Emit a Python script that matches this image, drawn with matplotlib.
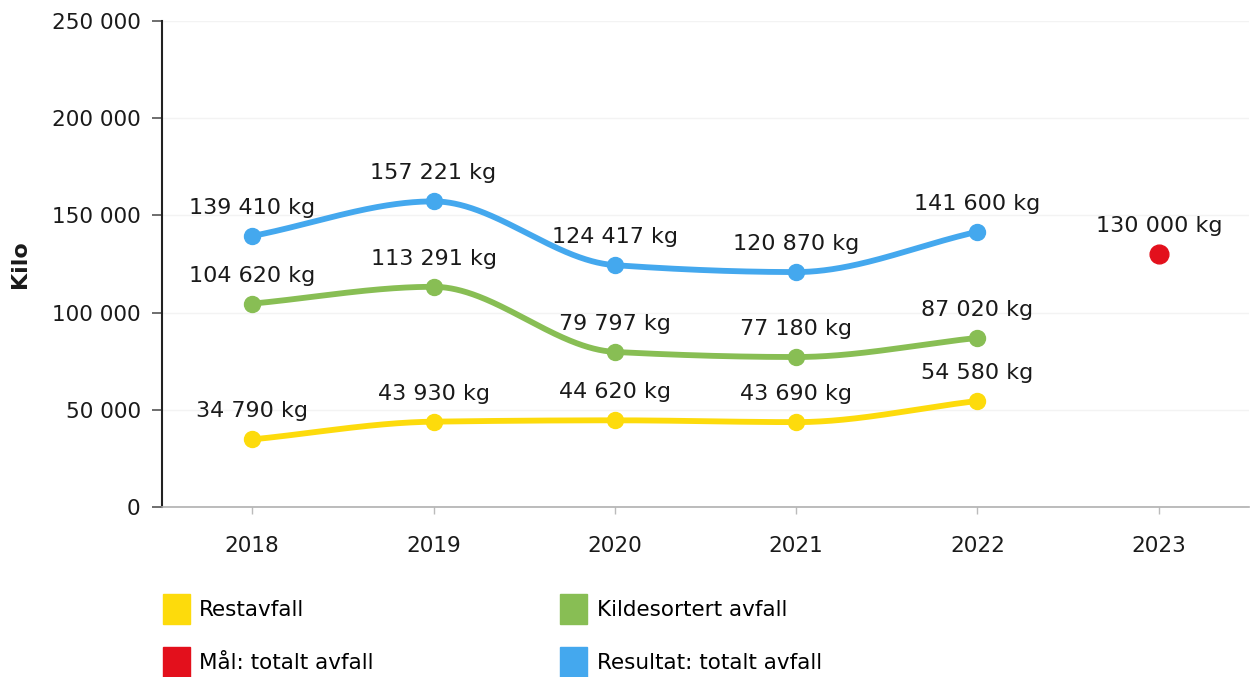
import numpy as np
import matplotlib.pyplot as plt
from matplotlib.patches import Patch
from matplotlib.ticker import FuncFormatter

plt.rcParams['font.family'] = ['DejaVu Sans']

years = ['2018', '2019', '2020', '2021', '2022', '2023']
restavfall = [34790, 43930, 44620, 43690, 54580]
kildesortert = [104620, 113291, 79797, 77180, 87020]
resultat = [139410, 157221, 124417, 120870, 141600]
maal = [130000]
maal_year_idx = 5

c_yellow = '#FDDB0C'
c_green = '#88BE54'
c_blue = '#44A8EE'
c_red = '#E3101C'
txt = '#1a1a1a'


def pchip(x, y, n=300):
    # monotone kubisk interpolasjon (Fritsch-Carlson)
    x = np.asarray(x, float)
    y = np.asarray(y, float)
    h = np.diff(x)
    d = np.diff(y) / h
    m = np.zeros_like(y)
    for i in range(1, len(y) - 1):
        if d[i - 1] * d[i] > 0:
            m[i] = 2 / (1 / d[i - 1] + 1 / d[i])
    m[0] = d[0]
    m[-1] = d[-1]
    xs, ys = [], []
    for i in range(len(h)):
        t = np.linspace(0, 1, n)
        h00 = 2 * t**3 - 3 * t**2 + 1
        h10 = t**3 - 2 * t**2 + t
        h01 = -2 * t**3 + 3 * t**2
        h11 = t**3 - t**2
        xs.append(x[i] + t * h[i])
        ys.append(h00 * y[i] + h10 * h[i] * m[i] + h01 * y[i + 1] + h11 * h[i] * m[i + 1])
    return np.concatenate(xs), np.concatenate(ys)


def fmt(v):
    return '{:,}'.format(int(v)).replace(',', ' ')


fig = plt.figure(figsize=(12.52, 6.77), dpi=100)
ax = fig.add_axes([0.129, 0.251, 0.869, 0.718])

x = np.arange(5)
for serie, col in [(resultat, c_blue), (kildesortert, c_green), (restavfall, c_yellow)]:
    xs, ys = pchip(x, serie)
    ax.plot(xs, ys, color=col, lw=4.2, solid_capstyle='round', zorder=3)
    ax.plot(x, serie, 'o', color=col, ms=11.5, zorder=4)
    for xi, v in zip(x, serie):
        ax.annotate(fmt(v) + ' kg', (xi, v), xytext=(0, 13), textcoords='offset points',
                    ha='center', va='bottom', fontsize=16, color=txt, zorder=5)

ax.plot([maal_year_idx], maal, 'o', color=c_red, ms=13.5, zorder=4)
ax.annotate(fmt(maal[0]) + ' kg', (maal_year_idx, maal[0]), xytext=(0, 13),
            textcoords='offset points', ha='center', va='bottom', fontsize=16, color=txt)

ax.set_xlim(-0.5, 5.5)
ax.set_ylim(0, 250000)
ax.set_yticks(np.arange(0, 250001, 50000))
ax.yaxis.set_major_formatter(FuncFormatter(lambda v, p: fmt(v)))
ax.set_xticks(np.arange(6))
ax.set_xticklabels(years)
ax.grid(axis='y', color='#f3f3f3', lw=1)
ax.set_axisbelow(True)

for s in ['top', 'right']:
    ax.spines[s].set_visible(False)
ax.spines['left'].set_color('#222222')
ax.spines['left'].set_linewidth(1.5)
ax.spines['bottom'].set_color('#b0b0b0')
ax.spines['bottom'].set_linewidth(1.2)
ax.tick_params(axis='y', length=7, width=1.2, color='#555555', pad=8, labelsize=15.5, labelcolor=txt)
ax.tick_params(axis='x', length=5, width=1, color='#bbbbbb', pad=16, labelsize=15.5, labelcolor=txt)
ax.set_ylabel('Kilo', fontsize=16, fontweight='bold', labelpad=16, color=txt)

handles = [Patch(color=c_yellow), Patch(color=c_red), Patch(color=c_green), Patch(color=c_blue)]
labels = ['Restavfall', 'Mål: totalt avfall', 'Kildesortert avfall', 'Resultat: totalt avfall']
fig.legend(handles, labels, ncol=2, loc='upper left', bbox_to_anchor=(0.130, 0.123),
           frameon=False, fontsize=15.5, handlelength=1.25, handleheight=1.8,
           handletextpad=0.45, columnspacing=8.65, labelspacing=1.05, borderaxespad=0, borderpad=0)

fig.savefig('out.png', dpi=100)
